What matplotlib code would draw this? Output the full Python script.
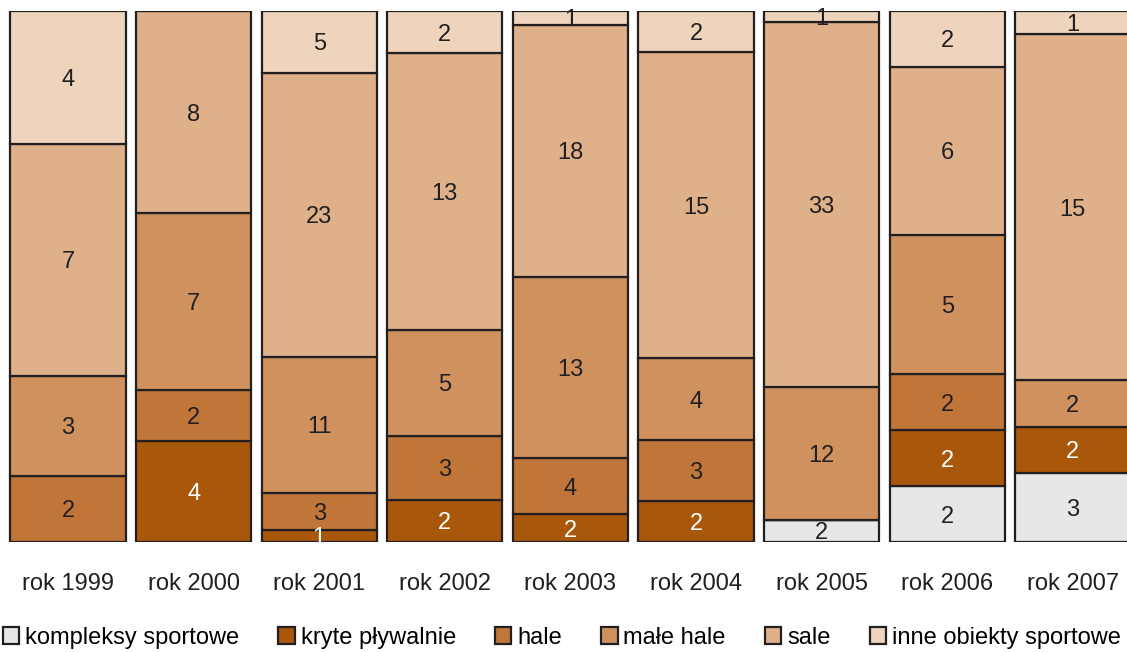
import numpy as np
import matplotlib
matplotlib.use("Agg")
import matplotlib.pyplot as plt

plt.rcParams['font.family'] = ['Liberation Sans', 'DejaVu Sans']

years = ['rok 1999', 'rok 2000', 'rok 2001', 'rok 2002', 'rok 2003',
         'rok 2004', 'rok 2005', 'rok 2006', 'rok 2007']
series = ['kompleksy sportowe', 'kryte pływalnie', 'hale', 'małe hale', 'sale',
          'inne obiekty sportowe']

kompleksy = [0, 0, 0, 0, 0, 0, 2, 2, 3]
kryte = [0, 4, 1, 2, 2, 2, 0, 2, 2]
hale = [2, 2, 3, 3, 4, 3, 0, 2, 0]
male_hale = [3, 7, 11, 5, 13, 4, 12, 5, 2]
sale = [7, 8, 23, 13, 18, 15, 33, 6, 15]
inne = [4, 0, 5, 2, 1, 2, 1, 2, 1]

colors = ['#E6E7E8', '#A9570A', '#C07539', '#CF925E', '#DEB18B', '#EED4BC']
text_colors = ['#231F20', 'white', '#231F20', '#231F20', '#231F20', '#231F20']

data = np.array([kompleksy, kryte, hale, male_hale, sale, inne], dtype=float)
totals = data.sum(axis=0)
share = data / totals

fig = plt.figure(figsize=(11.27, 6.52), dpi=100)
ax = fig.add_axes([0, 110 / 652, 1, 531 / 652])

x = np.arange(len(years))
bottom = np.zeros(len(years))
for k in range(len(series)):
    ax.bar(x, share[k], 0.916, bottom=bottom, color=colors[k],
           edgecolor='#231F20', linewidth=1.6, label=series[k])
    for i in range(len(years)):
        if data[k, i] > 0:
            ax.text(x[i], bottom[i] + share[k, i] / 2, '%d' % data[k, i],
                    ha='center', va='center_baseline', fontsize=17,
                    color=text_colors[k])
    bottom += share[k]

ax.set_xlim(-68 / 125.6, (1127 - 68) / 125.6)
ax.set_ylim(0, 1)
ax.set_xticks(x)
ax.set_xticklabels(years, fontsize=17, color='#231F20')
ax.tick_params(axis='x', length=0, pad=22)
ax.set_yticks([])
for s in ax.spines.values():
    s.set_visible(False)

fig.legend(loc='center', bbox_to_anchor=(0.4985, 1 - 638 / 652), ncol=6,
           frameon=False, fontsize=17, handlelength=0.7, handleheight=0.7,
           handletextpad=0.25, columnspacing=1.65, borderaxespad=0,
           borderpad=0)

fig.savefig('out.png', dpi=100)
